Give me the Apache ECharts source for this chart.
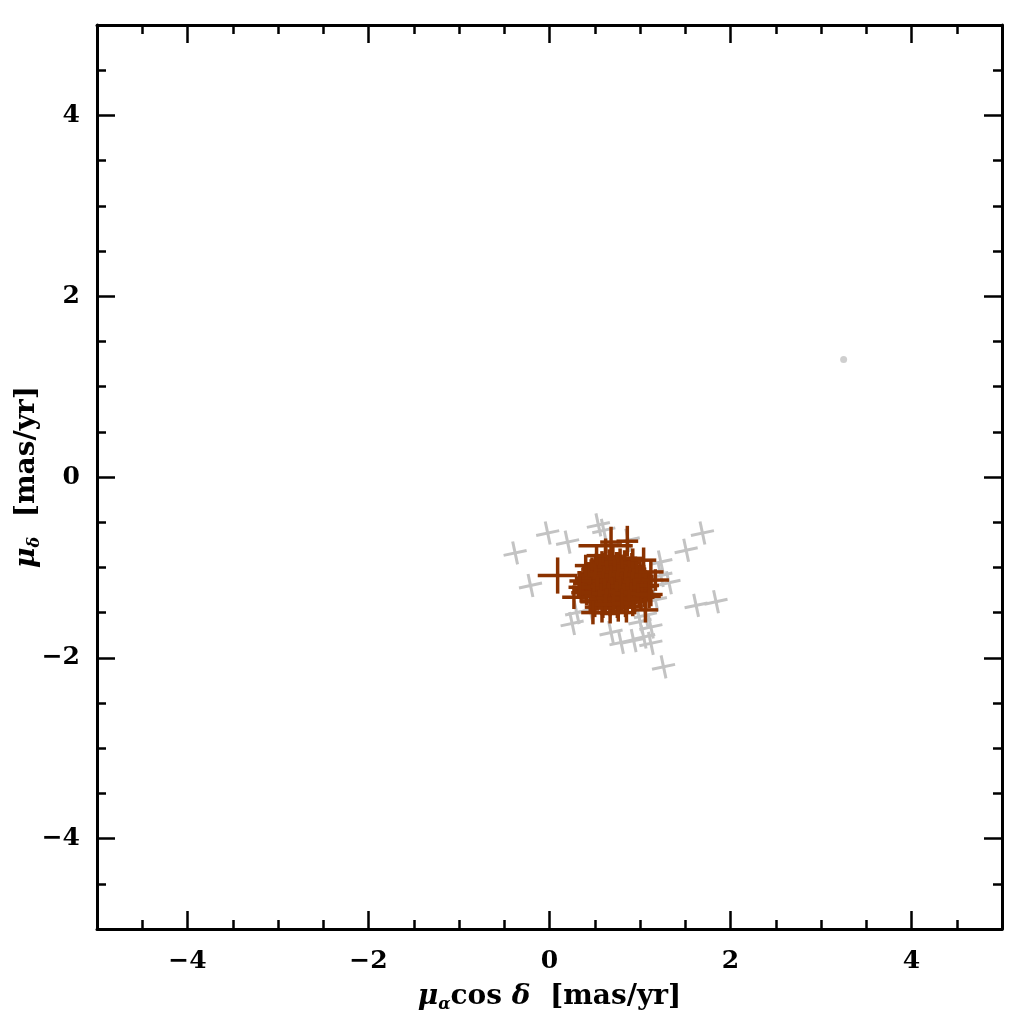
<!DOCTYPE html>
<html><head><meta charset="utf-8">
<script src="https://cdn.jsdelivr.net/npm/echarts@6/dist/echarts.min.js"></script>
<style>html,body{margin:0;padding:0;background:#fff}#c{width:1024px;height:1024px}</style>
</head><body><div id="c"></div>
<script>
// ---- data ----
const majorTicks = [-4, -2, 0, 2, 4];
const minorTicks = [-4.5, -3.5, -3, -2.5, -1.5, -1, -0.5, 0.5, 1, 1.5, 2.5, 3, 3.5, 4.5];

// gray (field) stars: proper motions and errors
const grayX = [-0.38, -0.02, 0.20, -0.21, 0.54, 0.60, 0.87, 1.69, 1.51, 1.23, 1.32, 1.23, 1.62, 1.84, 0.25, 0.68, 0.79, 1.04, 1.12, 1.26, 0.93, 1.12, 1.06, 0.45, 1.17, 0.30, 1.00];
const grayY = [-0.84, -0.62, -0.72, -1.20, -0.53, -0.59, -0.70, -0.62, -0.81, -0.94, -1.17, -1.09, -1.42, -1.38, -1.62, -1.72, -1.83, -1.77, -1.84, -2.10, -1.81, -1.66, -1.53, -1.47, -1.36, -1.50, -1.60];
const grayErr = [0.13, 0.13, 0.13, 0.13, 0.13, 0.13, 0.13, 0.13, 0.13, 0.13, 0.13, 0.13, 0.13, 0.13, 0.13, 0.13, 0.13, 0.13, 0.13, 0.13, 0.13, 0.13, 0.13, 0.13, 0.13, 0.13, 0.13];
const grayDotX = [3.25];
const grayDotY = [1.30];

// brown (member) stars, core of the cluster
const brownX = [
  0.58, 0.66, 0.74, 0.83,
  0.47, 0.55, 0.63, 0.71, 0.79, 0.88, 0.95,
  0.42, 0.51, 0.59, 0.68, 0.76, 0.84, 0.92, 1.00,
  0.39, 0.47, 0.56, 0.64, 0.72, 0.81, 0.89, 0.97, 1.04,
  0.37, 0.45, 0.53, 0.62, 0.70, 0.78, 0.87, 0.95, 1.03, 1.08,
  0.38, 0.46, 0.55, 0.63, 0.71, 0.80, 0.88, 0.96, 1.04,
  0.41, 0.49, 0.58, 0.66, 0.74, 0.83, 0.91, 0.99, 1.05,
  0.45, 0.53, 0.61, 0.70, 0.78, 0.86, 0.94, 1.01,
  0.50, 0.59, 0.67, 0.75, 0.84, 0.92,
  0.58, 0.67, 0.76, 0.85,
  0.62, 0.70, 0.78, 0.51, 0.59, 0.67, 0.75, 0.83, 0.91,
  0.46, 0.55, 0.63, 0.72, 0.80, 0.88, 0.96, 0.43, 0.51, 0.60, 0.68, 0.76, 0.85, 0.93, 1.00,
  0.42, 0.50, 0.59, 0.67, 0.75, 0.84, 0.92, 1.00, 1.06, 0.44, 0.53, 0.61, 0.69, 0.78, 0.86, 0.94, 1.02,
  0.49, 0.57, 0.65, 0.74, 0.82, 0.90, 0.98, 0.55, 0.63, 0.71, 0.80, 0.88, 0.62, 0.71, 0.80,
  0.33, 0.35, 1.10, 1.12, 0.52, 0.92,
  0.09, 0.68, 0.86, 1.04, 1.06, 0.48, 0.27, 0.62, 1.17, 1.10, 0.40, 0.33, 1.12
];
const brownY = [
  -0.93, -0.91, -0.94, -0.92,
  -1.00, -0.98, -0.99, -1.01, -0.97, -1.00, -0.99,
  -1.06, -1.04, -1.05, -1.07, -1.04, -1.06, -1.05, -1.07,
  -1.12, -1.13, -1.11, -1.12, -1.14, -1.11, -1.13, -1.12, -1.10,
  -1.18, -1.19, -1.17, -1.19, -1.18, -1.20, -1.17, -1.19, -1.18, -1.21,
  -1.25, -1.24, -1.26, -1.25, -1.27, -1.24, -1.26, -1.25, -1.27,
  -1.31, -1.32, -1.30, -1.33, -1.31, -1.32, -1.30, -1.31, -1.33,
  -1.38, -1.37, -1.39, -1.38, -1.37, -1.39, -1.38, -1.36,
  -1.44, -1.45, -1.43, -1.45, -1.44, -1.43,
  -1.50, -1.51, -1.49, -1.50,
  -0.89, -0.88, -0.90, -0.96, -0.95, -0.96, -0.94, -0.96, -0.95,
  -1.02, -1.01, -1.03, -1.02, -1.01, -1.03, -1.02, -1.09, -1.08, -1.10, -1.09, -1.08, -1.10, -1.08, -1.09,
  -1.15, -1.16, -1.15, -1.14, -1.16, -1.15, -1.16, -1.15, -1.14, -1.22, -1.21, -1.23, -1.22, -1.21, -1.22, -1.23, -1.22,
  -1.28, -1.29, -1.28, -1.27, -1.29, -1.28, -1.29, -1.35, -1.34, -1.35, -1.34, -1.35, -1.41, -1.41, -1.40,
  -1.15, -1.28, -1.20, -1.32, -0.87, -0.90,
  -1.09, -0.72, -0.71, -0.92, -1.47, -1.50, -1.33, -0.76, -1.14, -1.30, -0.98, -1.22, -1.05
];
// errors: small for core members, larger for the last 13 outer members
const brownErrXOuter = [0.22, 0.12, 0.12, 0.14, 0.14, 0.13, 0.13, 0.30, 0.15, 0.15, 0.12, 0.12, 0.14];
const brownErrYOuter = [0.20, 0.17, 0.17, 0.14, 0.14, 0.13, 0.13, 0.08, 0.12, 0.15, 0.12, 0.12, 0.14];
const brownErrCore = 0.11;

// ---- build ----
const nCore = brownX.length - brownErrXOuter.length;
const grayData = grayX.map((x, i) => [x, grayY[i], grayErr[i], grayErr[i]]);
const brownData = brownX.map((x, i) => [x, brownY[i],
  i < nCore ? brownErrCore : brownErrXOuter[i - nCore],
  i < nCore ? brownErrCore : brownErrYOuter[i - nCore]]);
const dotData = grayDotX.map((x, i) => [x, grayDotY[i]]);

function crossRenderer(color, rotDeg, lw) {
  const a = rotDeg * Math.PI / 180, ca = Math.cos(a), sa = Math.sin(a);
  return function (params, api) {
    const c = api.coord([api.value(0), api.value(1)]);
    const s = api.size([api.value(2), api.value(3)]);
    const hx = s[0], hy = s[1];
    return {
      type: 'group',
      children: [
        { type: 'line', shape: { x1: c[0] - hx * ca, y1: c[1] + hx * sa, x2: c[0] + hx * ca, y2: c[1] - hx * sa },
          style: { stroke: color, lineWidth: lw } },
        { type: 'line', shape: { x1: c[0] + hy * sa, y1: c[1] + hy * ca, x2: c[0] - hy * sa, y2: c[1] - hy * ca },
          style: { stroke: color, lineWidth: lw } }
      ]
    };
  };
}

const fontFam = 'DejaVu Serif';
const labelStyle = { fontFamily: fontFam, fontSize: 25, color: '#000', fontWeight: 'bold' };
const fmt = v => (v < 0 ? '\u2212' + Math.abs(v) : String(v));

function axisPair(dim, pos, withLabel, nameObj) {
  const base = { type: 'value', min: -5, max: 5, position: pos, splitLine: { show: false } };
  const major = Object.assign({}, base, {
    axisLine: { show: true, onZero: false, lineStyle: { color: '#000', width: 3 } },
    axisTick: { show: true, inside: true, length: 18, customValues: majorTicks, lineStyle: { color: '#000', width: 2.5 } },
    axisLabel: withLabel ? Object.assign({ show: true, customValues: majorTicks, formatter: fmt, margin: dim === 'x' ? 20 : 17 }, labelStyle) : { show: false }
  }, nameObj || {});
  const minor = Object.assign({}, base, {
    axisLine: { show: false, onZero: false },
    axisTick: { show: true, inside: true, length: 9, customValues: minorTicks, lineStyle: { color: '#000', width: 2.5 } },
    axisLabel: { show: false }
  });
  return [major, minor];
}

const richName = {
  mu: { fontFamily: fontFam, fontSize: 28, fontStyle: 'italic', fontWeight: 'bold', color: '#000' },
  sub: { fontFamily: fontFam, fontSize: 16, fontStyle: 'italic', fontWeight: 'bold', color: '#000', padding: [16, 0, 0, 0] },
  n: { fontFamily: fontFam, fontSize: 28, fontWeight: 'bold', color: '#000' },
  it: { fontFamily: fontFam, fontSize: 28, fontStyle: 'italic', fontWeight: 'bold', color: '#000' }
};

const xAxes = [].concat(
  axisPair('x', 'bottom', true, {
    name: '{mu|\u03bc}{sub|\u03b1}{n|cos }{it|\u03b4}{n|  [mas/yr]}',
    nameLocation: 'middle', nameGap: 52, nameMoveOverlap: false, nameTextStyle: { rich: richName }
  }),
  axisPair('x', 'top', false)
);
const yAxes = [].concat(
  axisPair('y', 'left', true, {
    name: '{mu|\u03bc}{sub|\u03b4}{n|  [mas/yr]}',
    nameLocation: 'middle', nameGap: 54, nameRotate: 90, nameMoveOverlap: false, nameTextStyle: { rich: richName }
  }),
  axisPair('y', 'right', false)
);

const chart = echarts.init(document.getElementById('c'), null, { renderer: 'canvas' });
chart.setOption({
  backgroundColor: '#fff',
  animation: false,
  grid: { left: 97, right: 22, top: 25, bottom: 95, containLabel: false, outerBoundsMode: 'none' },
  xAxis: xAxes,
  yAxis: yAxes,
  series: [
    { type: 'custom', xAxisIndex: 0, yAxisIndex: 0, data: grayData, renderItem: crossRenderer('#c3c3c3', 12, 3), z: 2 },
    { type: 'scatter', xAxisIndex: 0, yAxisIndex: 0, data: dotData, symbol: 'circle', symbolSize: 7,
      itemStyle: { color: '#c3c3c3' }, z: 2 },
    { type: 'custom', xAxisIndex: 0, yAxisIndex: 0, data: brownData, renderItem: crossRenderer('#8a3200', 0, 3.5), z: 3 }
  ]
});
</script></body></html>
